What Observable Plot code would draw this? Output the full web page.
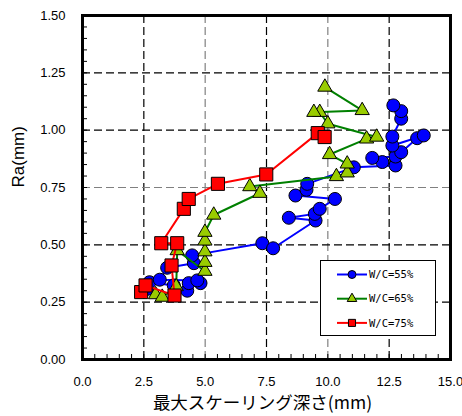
<!DOCTYPE html>
<html>
<head>
<meta charset="utf-8">
<script src="https://cdn.jsdelivr.net/npm/d3@7"></script>
<script src="https://cdn.jsdelivr.net/npm/@observablehq/plot@0.6"></script>
<style>
  html, body { margin: 0; padding: 0; background: #fff; }
  #chart { width: 462px; height: 416px; }
</style>
</head>
<body>
<div id="chart"></div>
<script>
// ---- data ----
const seriesNames = ["W/C=55%", "W/C=65%", "W/C=75%"];
const seriesColors = ["#0000FF", "#008000", "#FF0000"];
const seriesFills = ["#0000FF", "#99CC00", "#FF0000"];
const seriesSymbols = ["circle", "triangle", "square"];

const wc55X = [2.64, 2.73, 3.72, 4.27, 4.33, 4.81, 4.68, 3.15, 3.45, 4.54, 4.47, 7.33, 7.77, 9.50, 8.41, 9.47, 9.67, 10.29, 8.68, 9.13, 9.16, 11.06, 12.76, 12.22, 11.81, 12.76, 12.99, 13.64, 13.91, 12.63, 12.63, 12.99, 12.99, 12.67];
const wc55Y = [0.308, 0.337, 0.323, 0.300, 0.333, 0.333, 0.345, 0.348, 0.400, 0.420, 0.454, 0.507, 0.485, 0.606, 0.618, 0.635, 0.657, 0.700, 0.715, 0.740, 0.766, 0.838, 0.846, 0.861, 0.879, 0.885, 0.904, 0.965, 0.977, 0.933, 0.972, 1.050, 1.083, 1.108];

const wc65X = [2.98, 3.25, 3.82, 3.86, 4.99, 4.99, 4.99, 4.99, 4.99, 5.35, 7.23, 6.82, 10.35, 10.79, 10.79, 10.07, 11.58, 11.99, 10.00, 9.67, 9.43, 11.40, 9.88];
const wc65Y = [0.283, 0.272, 0.318, 0.475, 0.385, 0.424, 0.470, 0.517, 0.555, 0.630, 0.725, 0.754, 0.798, 0.814, 0.853, 0.894, 0.962, 0.970, 1.028, 1.078, 1.078, 1.086, 1.188];

const wc75X = [2.39, 2.57, 3.75, 3.63, 3.86, 3.21, 4.13, 4.33, 5.52, 7.49, 9.59, 9.87];
const wc75Y = [0.294, 0.323, 0.279, 0.410, 0.507, 0.507, 0.657, 0.700, 0.766, 0.807, 0.987, 0.970];

const xTicks = [0, 2.5, 5, 7.5, 10, 12.5, 15];
const yTicks = [0, 0.25, 0.5, 0.75, 1.0, 1.25, 1.5];
const xGrid = [2.5, 5, 7.5, 10, 12.5];
const yGrid = [0.25, 0.5, 0.75, 1.0, 1.25];
const xMinor = d3.range(0, 15.01, 0.5);
const yMinor = d3.range(0, 1.501, 0.05);
const xLabel = "最大スケーリング深さ(mm)";
const yLabel = "Ra(mm)";

// ---- build table ----
const allX = [wc55X, wc65X, wc75X];
const allY = [wc55Y, wc65Y, wc75Y];
const series = seriesNames.map((name, i) =>
  allX[i].map((x, j) => ({series: name, x, y: allY[i][j]}))
);

const W = 462, H = 416;
const mL = 82, mR = 12, mT = 15, mB = 57;
const innerW = W - mL - mR, innerH = H - mT - mB;

const grayGridX = [5, 10];
const grayGridY = [0.75];

const marks = [
  Plot.ruleX(xGrid, {x: d => d, stroke: d => grayGridX.includes(d) ? "#808080" : "#000", strokeWidth: 1.2, strokeDasharray: "8,4"}),
  Plot.ruleY(yGrid, {y: d => d, stroke: d => grayGridY.includes(d) ? "#808080" : "#000", strokeWidth: 1.2, strokeDasharray: "8,4"}),
  Plot.tickY(yMinor, {y: d => d, insetRight: innerW - 5, stroke: "#000", strokeWidth: 1}),
  Plot.tickX(xMinor, {x: d => d, insetTop: innerH - 5, stroke: "#000", strokeWidth: 1}),
];
series.forEach((data, i) => {
  marks.push(Plot.line(data, {x: "x", y: "y", stroke: seriesColors[i], strokeWidth: 2}));
  const r = i === 0 ? 6.5 : (i === 1 ? 5.3 : 7.4);
  marks.push(Plot.dot(data, {x: "x", y: "y", symbol: seriesSymbols[i], r, fill: seriesFills[i], stroke: "#000", strokeWidth: 1, fillOpacity: 1}));
});
marks.push(
  Plot.frame({stroke: "#000", strokeWidth: 3}),
  Plot.axisX(xTicks, {tickSize: 0, tickPadding: 17, tickFormat: d3.format(".1f"), fontSize: 13, label: null}),
  Plot.axisY(yTicks, {tickSize: 0, tickPadding: 17, tickFormat: d3.format(".2f"), fontSize: 13, label: null}),
  Plot.text([xLabel], {text: d => d, frameAnchor: "bottom", dy: 49, dx: -4, fontSize: 17.5, fontFamily: "Noto Sans CJK JP", fill: "#000"}),
  Plot.text([yLabel], {text: d => d, frameAnchor: "left", dx: -64, rotate: -90, fontSize: 17, fontFamily: "Liberation Sans, Arial", fill: "#000"})
);

const plot = Plot.plot({
  width: W, height: H,
  marginLeft: mL, marginRight: mR, marginTop: mT, marginBottom: mB,
  x: {domain: [0, 15]},
  y: {domain: [0, 1.5]},
  style: {fontFamily: "Liberation Sans, Arial, sans-serif", fontSize: "13px", color: "#000", background: "#fff"},
  marks
});
document.getElementById("chart").appendChild(plot);

// ---- legend (layout drawn in pixels) ----
const svg = d3.select(plot);
const lg = svg.append("g").attr("text-anchor", "start");
lg.append("rect").attr("x", 320.5).attr("y", 260.5).attr("width", 115).attr("height", 75)
  .attr("fill", "#fff").attr("stroke", "#000").attr("stroke-width", 1);
const symbolTypes = [d3.symbolCircle, d3.symbolTriangle, d3.symbolSquare];
const symbolSizes = [50, 40, 50];
seriesNames.forEach((name, i) => {
  const cy = 274.5 + i * 24.2;
  lg.append("line").attr("x1", 337).attr("x2", 367).attr("y1", cy).attr("y2", cy)
    .attr("stroke", seriesColors[i]).attr("stroke-width", 2);
  lg.append("path").attr("d", d3.symbol(symbolTypes[i], symbolSizes[i])())
    .attr("transform", `translate(352,${cy})`)
    .attr("fill", seriesFills[i]).attr("stroke", "#000").attr("stroke-width", 1);
  lg.append("text").attr("x", 369).attr("y", cy).attr("dy", "0.35em")
    .attr("text-anchor", "start")
    .attr("font-family", "DejaVu Sans Mono, monospace").attr("font-size", 10.5)
    .attr("fill", "#000").text(name);
});
</script>
</body>
</html>
